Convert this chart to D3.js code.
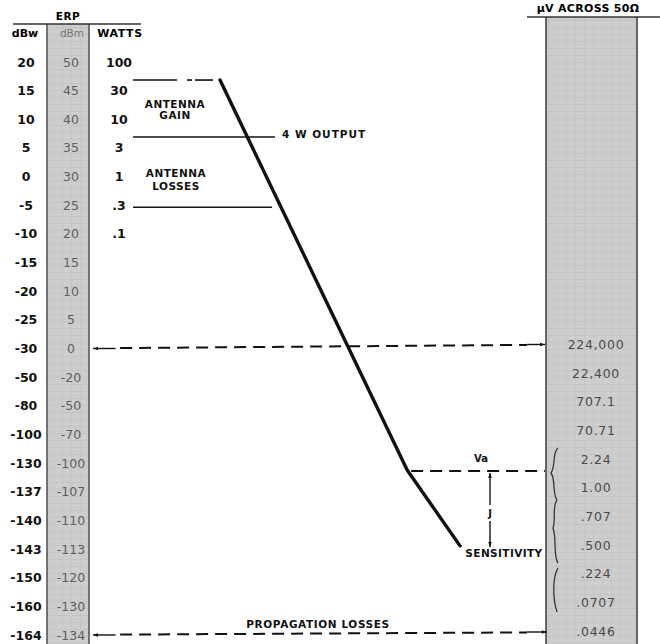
<!DOCTYPE html>
<html>
<head>
<meta charset="utf-8">
<script src="https://cdn.jsdelivr.net/npm/d3@7"></script>
<style>
  html, body { margin: 0; padding: 0; background: #fff; }
  svg { display: block; }
</style>
</head>
<body>
<svg id="chart" width="660" height="644"></svg>
<script>
// ---------- data ----------
const dBwLabels = ["20","15","10","5","0","-5","-10","-15","-20","-25","-30","-50","-80","-100","-130","-137","-140","-143","-150","-160","-164"];
const dBmLabels = ["50","45","40","35","30","25","20","15","10","5","0","-20","-50","-70","-100","-107","-110","-113","-120","-130","-134"];
const wattLabels = ["100","30","10","3","1",".3",".1"];
const microvoltLabels = ["224,000","22,400","707.1","70.71","2.24","1.00",".707",".500",".224",".0707",".0446"];
const microvoltStartRow = 10; // aligned with -30 dBw
// signal level path: row position (fractional row index) and horizontal progress (0-100)
const levelRow = [0.63, 14.24, 16.89];
const levelX = [28.1, 69.5, 81.2];
// reference levels (row index)
const gainTopRow = 0.63, outputRow = 2.62, lossRow = 5.07;
const vaRow = 14.24, sensRow = 16.89;

// ---------- scales ----------
const svg = d3.select("#chart");
const y = d3.scaleLinear().domain([0, 20]).range([62, 635]);
const x = d3.scaleLinear().domain([0, 100]).range([93, 545]);
const rightShift = -4; // right column printed slightly higher

// ---------- pattern for gray bands ----------
const defs = svg.append("defs");
const pat = defs.append("pattern").attr("id","paper").attr("patternUnits","userSpaceOnUse")
  .attr("width", 9).attr("height", 7);
pat.append("rect").attr("width",9).attr("height",7).attr("fill","#cdcdcd");
pat.append("line").attr("x1",0).attr("x2",9).attr("y1",6.5).attr("y2",6.5).attr("stroke","#c4c4c4").attr("stroke-width",1);
pat.append("line").attr("x1",8.5).attr("x2",8.5).attr("y1",0).attr("y2",7).attr("stroke","#c6c6c6").attr("stroke-width",1);

const marker = (id) => {
  const m = defs.append("marker").attr("id", id)
    .attr("viewBox","0 0 10 10").attr("refX", 10).attr("refY", 5)
    .attr("markerWidth", 7).attr("markerHeight", 5).attr("markerUnits","userSpaceOnUse")
    .attr("orient", "auto");
  m.append("path").attr("d","M0,1.5 L10,5 L0,8.5 Z").attr("fill","#111");
};
marker("arrow");

// ---------- bands ----------
svg.append("rect").attr("x",47).attr("y",24).attr("width",42).attr("height",620)
  .attr("fill","url(#paper)");
svg.append("line").attr("x1",47).attr("x2",47).attr("y1",24).attr("y2",644).attr("stroke","#555").attr("stroke-width",1.6);
svg.append("line").attr("x1",89).attr("x2",89).attr("y1",24).attr("y2",644).attr("stroke","#555").attr("stroke-width",1.6);

svg.append("rect").attr("x",546).attr("y",17).attr("width",91).attr("height",627)
  .attr("fill","url(#paper)");
svg.append("line").attr("x1",546).attr("x2",546).attr("y1",17).attr("y2",644).attr("stroke","#444").attr("stroke-width",1.6);
svg.append("line").attr("x1",637).attr("x2",637).attr("y1",17).attr("y2",644).attr("stroke","#444").attr("stroke-width",1.6);

// header lines
svg.append("line").attr("x1",13).attr("x2",141).attr("y1",24).attr("y2",24).attr("stroke","#333").attr("stroke-width",1.5);
svg.append("line").attr("x1",527).attr("x2",660).attr("y1",17).attr("y2",17).attr("stroke","#333").attr("stroke-width",1.5);

const bold = "DejaVu Sans, sans-serif";

// headers
svg.append("text").attr("x",68).attr("y",20).attr("text-anchor","middle")
  .attr("font-family",bold).attr("font-weight","bold").attr("font-size",10.5).attr("letter-spacing",0.5).text("ERP");
svg.append("text").attr("x",25).attr("y",37).attr("text-anchor","middle")
  .attr("font-family",bold).attr("font-weight","bold").attr("font-size",11).text("dBw");
svg.append("text").attr("x",72).attr("y",37).attr("text-anchor","middle").attr("fill","#777")
  .attr("font-family",bold).attr("font-size",10.5).text("dBm");
svg.append("text").attr("x",120).attr("y",37).attr("text-anchor","middle")
  .attr("font-family",bold).attr("font-weight","bold").attr("font-size",11).attr("letter-spacing",0.6).text("WATTS");
svg.append("text").attr("x",588).attr("y",12).attr("text-anchor","middle")
  .attr("font-family",bold).attr("font-weight","bold").attr("font-size",11).attr("letter-spacing",0.3).text("µV ACROSS 50Ω");

// column values
svg.append("g").selectAll("text").data(dBwLabels).join("text")
  .attr("x",26).attr("y",(d,i)=>y(i)).attr("dy","0.36em").attr("text-anchor","middle")
  .attr("font-family",bold).attr("font-weight","bold").attr("font-size",12.5).attr("fill","#111")
  .text(d=>d);
svg.append("g").selectAll("text").data(dBmLabels).join("text")
  .attr("x",71).attr("y",(d,i)=>y(i)).attr("dy","0.36em").attr("text-anchor","middle")
  .attr("font-family",bold).attr("font-size",12.5).attr("fill","#5e5e5e")
  .text(d=>d);
svg.append("g").selectAll("text").data(wattLabels).join("text")
  .attr("x",119).attr("y",(d,i)=>y(i)).attr("dy","0.36em").attr("text-anchor","middle")
  .attr("font-family",bold).attr("font-weight","bold").attr("font-size",12.5).attr("fill","#111")
  .text(d=>d);
svg.append("g").selectAll("text").data(microvoltLabels).join("text")
  .attr("x",596).attr("y",(d,i)=>y(i+microvoltStartRow)+rightShift).attr("dy","0.36em").attr("text-anchor","middle")
  .attr("font-family",bold).attr("font-size",12.5).attr("letter-spacing",0.7).attr("fill","#4a4a4a")
  .text(d=>d);

// ---------- reference lines ----------
const solid = (x1,y1,x2,y2,w=1.6) => svg.append("line").attr("x1",x1).attr("y1",y1).attr("x2",x2).attr("y2",y2)
  .attr("stroke","#111").attr("stroke-width",w);
solid(133, y(gainTopRow), 177, y(gainTopRow));
solid(187, y(gainTopRow), 192, y(gainTopRow));
solid(195, y(gainTopRow), 213, y(gainTopRow));
solid(133, y(outputRow), 275, y(outputRow));
solid(133, y(lossRow), 272, y(lossRow));

const lab = (t, xx, yy, opts={}) => svg.append("text").attr("x",xx).attr("y",yy)
  .attr("text-anchor", opts.anchor || "middle")
  .attr("font-family",bold).attr("font-weight","bold").attr("font-size",opts.size||10.5)
  .attr("letter-spacing", opts.ls==null?0.5:opts.ls).attr("fill","#111").text(t);
lab("ANTENNA", 175, 108);
lab("GAIN", 175, 119);
lab("ANTENNA", 176, 177);
lab("LOSSES", 176, 190);
lab("4 W  OUTPUT", 282, 138, {anchor:"start", ls:1});
lab("Va", 481, 462, {size:10, ls:0});
lab("J", 490, 517, {size:10, ls:0});
lab("SENSITIVITY", 504, 557, {ls:0.4});
lab("PROPAGATION LOSSES", 318, 628, {ls:0.6});

// dashed transfer lines with arrows
const dashed = (x1,y1,x2,y2) => svg.append("line").attr("x1",x1).attr("y1",y1).attr("x2",x2).attr("y2",y2)
    .attr("stroke","#111").attr("stroke-width",2).attr("stroke-dasharray","12,7");
// -30 dBw line: arrows at both bands
const r30 = 10;
dashed(x(6), y(r30)-0.4, x(96), y(r30)+rightShift+0.4);
svg.append("line").attr("x1",x(5)).attr("y1",y(r30)).attr("x2",x(0)).attr("y2",y(r30))
  .attr("stroke","#111").attr("stroke-width",1.4).attr("marker-end","url(#arrow)");
svg.append("line").attr("x1",x(96)).attr("y1",y(r30)+rightShift).attr("x2",x(100)).attr("y2",y(r30)+rightShift)
  .attr("stroke","#111").attr("stroke-width",1.4).attr("marker-end","url(#arrow)");
// bottom propagation losses line
const r164 = 20;
dashed(x(6), y(r164)-0.4, x(96), y(r164)-3+0.4);
svg.append("line").attr("x1",x(5)).attr("y1",y(r164)).attr("x2",x(0)).attr("y2",y(r164))
  .attr("stroke","#111").attr("stroke-width",1.4).attr("marker-end","url(#arrow)");
svg.append("line").attr("x1",x(96)).attr("y1",y(r164)-3).attr("x2",x(100.4)).attr("y2",y(r164)-3)
  .attr("stroke","#111").attr("stroke-width",1.4).attr("marker-end","url(#arrow)");
// Va line
svg.append("line").attr("x1",x(levelX[1])+4).attr("y1",y(vaRow)+1).attr("x2",x(100)).attr("y2",y(vaRow)+1)
  .attr("stroke","#111").attr("stroke-width",2).attr("stroke-dasharray","12,7");

// J arrow
svg.append("line").attr("x1",490).attr("x2",490).attr("y1",505).attr("y2",y(vaRow)+3)
  .attr("stroke","#111").attr("stroke-width",1.4).attr("marker-end","url(#arrow)");
svg.append("line").attr("x1",490).attr("x2",490).attr("y1",521).attr("y2",y(sensRow)+1)
  .attr("stroke","#111").attr("stroke-width",1.4).attr("marker-end","url(#arrow)");

// braces inside right band
const braces = [
  "M558,448 C552,452 556,466 551,473 C556,480 552,494 557,500",
  "M557,500 C552,506 556,520 553,528 C557,540 553,556 558,563",
  "M558,568 C552,578 553,600 557,612"
];
svg.append("g").selectAll("path").data(braces).join("path")
  .attr("d", d=>d).attr("fill","none").attr("stroke","#333").attr("stroke-width",1.3);

// ---------- signal level line ----------
const pts = levelRow.map((r,i)=>({r, v: levelX[i]}));
svg.append("path").datum(pts)
  .attr("d", d3.line().x(d=>x(d.v)).y(d=>y(d.r)))
  .attr("fill","none").attr("stroke","#111").attr("stroke-width",3.4)
  .attr("stroke-linejoin","round").attr("stroke-linecap","round");
</script>
</body>
</html>
